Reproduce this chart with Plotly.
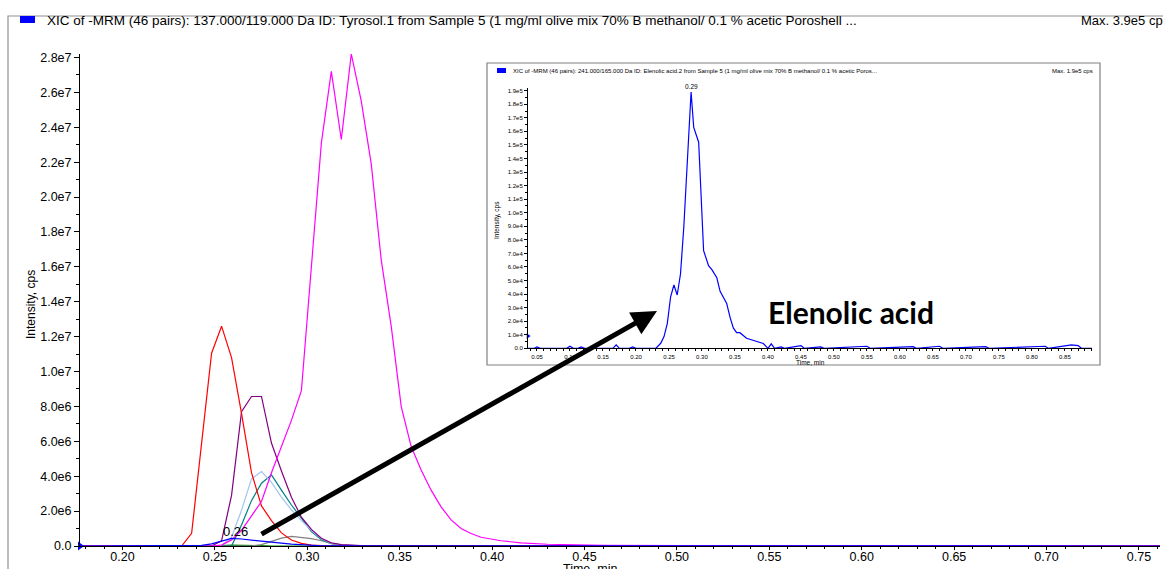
import plotly.graph_objects as go

# ---------------- main chromatogram data (time, min / intensity, cps) ----------------
RED_T = [0.177, 0.2320, 0.2374, 0.2428, 0.2482, 0.2536, 0.2590, 0.2644, 0.2698, 0.2752,
         0.2806, 0.2860, 0.2914, 0.2968, 0.3022, 0.3076, 0.3184, 0.7614]
RED_Y = [0, 0, 0.73e6, 5.9e6, 11.05e6, 12.6e6, 10.8e6, 7.6e6, 4.2e6, 2.3e6,
         1.45e6, 0.75e6, 0.34e6, 0.15e6, 0.05e6, 0.02e6, 0, 0]

PURPLE_T = [0.177, 0.2482, 0.2536, 0.2590, 0.2644, 0.2698, 0.2752, 0.2806, 0.2860, 0.2914,
            0.2968, 0.3022, 0.3076, 0.3130, 0.3184, 0.3292, 0.7614]
PURPLE_Y = [0, 0, 0.3e6, 2.9e6, 7.7e6, 8.57e6, 8.57e6, 5.9e6, 4.3e6, 2.8e6,
            1.65e6, 0.95e6, 0.44e6, 0.18e6, 0.08e6, 0.02e6, 0]

LIGHTBLUE_T = [0.177, 0.2482, 0.2536, 0.2590, 0.2644, 0.2698, 0.2752, 0.2806, 0.2860, 0.2914,
               0.2968, 0.3022, 0.3076, 0.3130, 0.3184, 0.3292, 0.7614]
LIGHTBLUE_Y = [0, 0, 0.05e6, 0.5e6, 2.05e6, 3.85e6, 4.27e6, 3.65e6, 2.8e6, 2.07e6,
               1.45e6, 0.9e6, 0.42e6, 0.15e6, 0.06e6, 0.01e6, 0]

TEAL_T = [0.177, 0.2590, 0.2644, 0.2698, 0.2752, 0.2806, 0.2860, 0.2914, 0.2968, 0.3022,
          0.3076, 0.3130, 0.3184, 0.3292, 0.7614]
TEAL_Y = [0, 0, 1.2e6, 2.6e6, 3.6e6, 4.07e6, 3.2e6, 2.35e6, 1.6e6, 0.82e6,
          0.36e6, 0.13e6, 0.05e6, 0.01e6, 0]

BLUE_T = [0.177, 0.2374, 0.2428, 0.2482, 0.2536, 0.2590, 0.2644, 0.2698, 0.2752, 0.2806,
          0.2860, 0.2914, 0.2968, 0.3022, 0.3076, 0.7614]
BLUE_Y = [0, 0, 0.04e6, 0.12e6, 0.3e6, 0.44e6, 0.4e6, 0.33e6, 0.27e6, 0.22e6,
          0.16e6, 0.11e6, 0.07e6, 0.03e6, 0.01e6, 0]

GRAY_T = [0.177, 0.2698, 0.2752, 0.2806, 0.2860, 0.2914, 0.2968, 0.3022, 0.3076, 0.3130,
          0.3184, 0.3238, 0.7614]
GRAY_Y = [0, 0, 0.08e6, 0.25e6, 0.45e6, 0.55e6, 0.5e6, 0.42e6, 0.3e6, 0.15e6,
          0.05e6, 0.01e6, 0]

GREEN_T = [0.177, 0.2482, 0.2536, 0.2590, 0.2644, 0.2698, 0.2752, 0.2806, 0.7614]
GREEN_Y = [0, 0, 0.03e6, 0.05e6, 0.05e6, 0.04e6, 0.02e6, 0, 0]

MAGENTA_T = [0.177, 0.2482, 0.2536, 0.2590, 0.2644, 0.2698, 0.2752, 0.2806, 0.2860, 0.2914,
             0.2968, 0.3022, 0.3076, 0.3130, 0.3184, 0.3238, 0.3292, 0.3346, 0.3400, 0.3454,
             0.3508, 0.3562, 0.3616, 0.3670, 0.3724, 0.3778, 0.3832, 0.3886, 0.3940, 0.4048,
             0.4156, 0.4300, 0.4600, 0.5500, 0.7614]
MAGENTA_Y = [0, 0, 0.05e6, 0.35e6, 0.9e6, 1.7e6, 2.55e6, 4.2e6, 5.7e6, 7.2e6,
             8.9e6, 16.0e6, 23.1e6, 27.2e6, 23.3e6, 28.2e6, 25.5e6, 21.9e6, 16.4e6, 12.6e6,
             8.0e6, 5.7e6, 4.36e6, 3.2e6, 2.24e6, 1.5e6, 1.0e6, 0.72e6, 0.5e6, 0.3e6,
             0.18e6, 0.1e6, 0.04e6, 0.01e6, 0]

MAIN_X_RANGE = [0.177, 0.7614]
MAIN_Y_RANGE = [0, 2.82e7]
MAIN_Y_TICKS = [0, 2e6, 4e6, 6e6, 8e6, 1e7, 1.2e7, 1.4e7, 1.6e7, 1.8e7, 2.0e7, 2.2e7, 2.4e7, 2.6e7, 2.8e7]
MAIN_Y_LABELS = ["0.0", "2.0e6", "4.0e6", "6.0e6", "8.0e6", "1.0e7", "1.2e7", "1.4e7", "1.6e7",
                 "1.8e7", "2.0e7", "2.2e7", "2.4e7", "2.6e7", "2.8e7"]
MAIN_PEAK_T = 0.2590
MAIN_PEAK_LABEL = "0.26"

# ---------------- inset (Elenolic acid) data ----------------
INSET_T = [0.0364, 0.046, 0.050, 0.055, 0.095, 0.100, 0.105, 0.112, 0.117, 0.122,
           0.165, 0.170, 0.175, 0.190, 0.195, 0.200, 0.2300, 0.2375, 0.2425, 0.2475,
           0.2525, 0.2575, 0.2625, 0.2675, 0.2725, 0.2775, 0.2835, 0.2875, 0.2950, 0.3025,
           0.3100, 0.3150, 0.3225, 0.3275, 0.3375, 0.3425, 0.3475, 0.3525, 0.3575, 0.3675,
           0.3775, 0.3850, 0.3930, 0.4000, 0.4050, 0.4100, 0.420, 0.425, 0.445, 0.450,
           0.455, 0.480, 0.485, 0.550, 0.555, 0.620, 0.625, 0.660, 0.665, 0.730,
           0.735, 0.800, 0.820, 0.825, 0.860, 0.870, 0.875, 0.891]
INSET_Y = [0, 0, 1000, 0, 0, 1500, 0, 0, 1000, 0,
           0, 2500, 0, 0, 1000, 0, 0, 3700, 8600, 18400,
           38000, 46700, 39300, 55000, 89700, 136000, 189000, 163000, 152000, 72000,
           61000, 58000, 52000, 42000, 33000, 23000, 15000, 11500, 11500, 7400,
           5700, 5000, 3500, 0, 3300, 0, 1000, 0, 1500, 2000,
           0, 1000, 0, 1500, 0, 1200, 0, 1500, 0, 1200,
           0, 1000, 1500, 0, 2500, 2000, 0, 0]
INSET_X_RANGE = [0.0364, 0.891]
INSET_Y_RANGE = [0, 1.92e5]
INSET_Y_TICKS = [i * 1e4 for i in range(20)]
INSET_Y_LABELS = ["0.0", "1.0e4", "2.0e4", "3.0e4", "4.0e4", "5.0e4", "6.0e4", "7.0e4", "8.0e4",
                  "9.0e4", "1.0e5", "1.1e5", "1.2e5", "1.3e5", "1.4e5", "1.5e5", "1.6e5",
                  "1.7e5", "1.8e5", "1.9e5"]
INSET_PEAK_T = 0.2835
INSET_PEAK_LABEL = "0.29"
INSET_MARK_Y = 9000

MAIN_TITLE = ("XIC of -MRM (46 pairs): 137.000/119.000 Da ID: Tyrosol.1 from Sample 5 "
              "(1 mg/ml olive mix 70% B methanol/ 0.1 % acetic Poroshell ...")
MAIN_MAX = "Max. 3.9e5 cps"
INSET_TITLE = ("XIC of -MRM (46 pairs): 241.000/165.000 Da ID: Elenolic acid.2 from Sample 5 "
               "(1 mg/ml olive mix 70% B methanol/ 0.1 % acetic Poros...")
INSET_MAX = "Max. 1.9e5 cps"

# ---------------- layout geometry (pixels) ----------------
W, H = 1163, 569
L, R, T, B = 80, 3, 54, 23
PW, PH = W - L - R, H - T - B


def px(xp):
    return (xp - L) / PW


def py(yp):
    return (H - B - yp) / PH


FONT = "Arial, Liberation Sans, sans-serif"

fig = go.Figure()

series = [
    (GREEN_T, GREEN_Y, "#008000"),
    (GRAY_T, GRAY_Y, "#808080"),
    (TEAL_T, TEAL_Y, "#008080"),
    (LIGHTBLUE_T, LIGHTBLUE_Y, "#a2c6f0"),
    (PURPLE_T, PURPLE_Y, "#800080"),
    (RED_T, RED_Y, "#ff0000"),
    (MAGENTA_T, MAGENTA_Y, "#ff00ff"),
    (BLUE_T, BLUE_Y, "#0000ff"),
]
for t, y, c in series:
    fig.add_trace(go.Scatter(x=t, y=y, mode="lines", line=dict(color=c, width=1.2),
                             xaxis="x", yaxis="y", showlegend=False, hoverinfo="skip"))

# start-of-axis marker (main)
fig.add_trace(go.Scatter(x=[MAIN_X_RANGE[0]], y=[0], mode="markers",
                         marker=dict(symbol="triangle-right", size=8, color="#0000ff"),
                         cliponaxis=False, xaxis="x", yaxis="y", showlegend=False))

# inset trace
fig.add_trace(go.Scatter(x=INSET_T, y=INSET_Y, mode="lines", line=dict(color="#0000ff", width=1.2),
                         xaxis="x2", yaxis="y2", showlegend=False, hoverinfo="skip"))
fig.add_trace(go.Scatter(x=[INSET_X_RANGE[0]], y=[INSET_MARK_Y], mode="markers",
                         marker=dict(symbol="triangle-right", size=5, color="#0000ff"),
                         cliponaxis=False, xaxis="x2", yaxis="y2", showlegend=False))

shapes = [
    # outer frame
    dict(type="rect", xref="paper", yref="paper", x0=px(8), x1=px(1175), y0=py(580), y1=py(16),
         line=dict(color="#909090", width=1.2), fillcolor="rgba(0,0,0,0)", layer="below"),
    # blue legend swatch (main)
    dict(type="rect", xref="paper", yref="paper", x0=px(20), x1=px(35), y0=py(23), y1=py(16),
         line=dict(width=0), fillcolor="#0000ff"),
    # inset box
    dict(type="rect", xref="paper", yref="paper", x0=px(487), x1=px(1100), y0=py(365), y1=py(63),
         line=dict(color="#808080", width=1.2), fillcolor="white", layer="below"),
    # inset legend swatch
    dict(type="rect", xref="paper", yref="paper", x0=px(497), x1=px(506), y0=py(73), y1=py(68),
         line=dict(width=0), fillcolor="#0000ff"),
]

annotations = [
    dict(text=MAIN_TITLE, xref="paper", yref="paper", x=px(45), y=py(21), xanchor="left",
         yanchor="middle", showarrow=False, font=dict(family=FONT, size=13.5, color="black")),
    dict(text=MAIN_MAX, xref="paper", yref="paper", x=px(1079), y=py(21), xanchor="left",
         yanchor="middle", showarrow=False, font=dict(family=FONT, size=13, color="black")),
    dict(text="Intensity, cps", xref="paper", yref="paper", x=px(31), y=py(305), textangle=-90,
         xanchor="center", yanchor="middle", showarrow=False,
         font=dict(family=FONT, size=12, color="black")),
    dict(text="Time, min", xref="paper", yref="paper", x=px(590), y=py(569), xanchor="center",
         yanchor="middle", showarrow=False, font=dict(family=FONT, size=12.5, color="black")),
    dict(text=MAIN_PEAK_LABEL, xref="x", yref="y", x=MAIN_PEAK_T, y=0.44e6, yanchor="bottom",
         xshift=4, yshift=-3, showarrow=False, font=dict(family=FONT, size=13, color="black")),
    # inset texts
    dict(text=INSET_TITLE, xref="paper", yref="paper", x=px(511), y=py(71), xanchor="left",
         yanchor="middle", showarrow=False, font=dict(family=FONT, size=6, color="black")),
    dict(text=INSET_MAX, xref="paper", yref="paper", x=px(1050), y=py(71), xanchor="left",
         yanchor="middle", showarrow=False, font=dict(family=FONT, size=6, color="black")),
    dict(text="Intensity, cps", xref="paper", yref="paper", x=px(497), y=py(220), textangle=-90,
         xanchor="center", yanchor="middle", showarrow=False,
         font=dict(family=FONT, size=6.5, color="black")),
    dict(text="Time, min", xref="paper", yref="paper", x=px(810), y=py(362), xanchor="center",
         yanchor="middle", showarrow=False, font=dict(family=FONT, size=6.5, color="black")),
    dict(text=INSET_PEAK_LABEL, xref="x2", yref="y2", x=INSET_PEAK_T, y=max(INSET_Y),
         yanchor="bottom", yshift=0, showarrow=False, font=dict(family=FONT, size=6.5, color="black")),
    # big label
    dict(text="<b>Elenolic acid</b>", xref="paper", yref="paper", x=px(851), y=py(312),
         xanchor="center", yanchor="middle", showarrow=False,
         font=dict(family="Lato, Open Sans, sans-serif", size=30, color="black")),
    # arrow
    dict(text="", xref="paper", yref="paper", x=px(657), y=py(311), ax=260 - 657, ay=535 - 311,
         axref="pixel", ayref="pixel", showarrow=True, arrowhead=2, arrowsize=1,
         arrowwidth=5, arrowcolor="black"),
]

axis_common = dict(showgrid=False, zeroline=False, showline=True, linecolor="black", linewidth=1,
                   ticks="outside", tickcolor="black", mirror=False, automargin=False)

fig.update_layout(
    width=W, height=H,
    margin=dict(l=L, r=R, t=T, b=B, pad=0, autoexpand=False),
    paper_bgcolor="white", plot_bgcolor="white",
    showlegend=False,
    xaxis=dict(**axis_common, domain=[0, 1], range=MAIN_X_RANGE, anchor="y",
               tick0=0, dtick=0.05, tickformat=".2f", ticklen=3, tickwidth=1,
               ticklabelstandoff=-4,
               tickfont=dict(family=FONT, size=12.5, color="black"),
               minor=dict(dtick=0.01, tick0=0, ticks="outside", ticklen=2, tickcolor="black")),
    yaxis=dict(**axis_common, domain=[0, 1], range=MAIN_Y_RANGE, anchor="x",
               tickvals=MAIN_Y_TICKS, ticktext=MAIN_Y_LABELS, ticklen=5, tickwidth=1,
               tickfont=dict(family=FONT, size=12.5, color="black"),
               minor=dict(dtick=1e6, tick0=0, ticks="outside", ticklen=3, tickcolor="black")),
    xaxis2=dict(**axis_common, domain=[px(528), px(1092)], range=INSET_X_RANGE, anchor="y2",
                tick0=0, dtick=0.05, tickformat=".2f", ticklen=2, tickwidth=1,
                tickfont=dict(family=FONT, size=6, color="black"),
                minor=dict(dtick=0.01, tick0=0, ticks="outside", ticklen=1.5, tickcolor="black")),
    yaxis2=dict(**axis_common, domain=[py(348.3), py(88)], range=INSET_Y_RANGE, anchor="x2",
                tickvals=INSET_Y_TICKS, ticktext=INSET_Y_LABELS, ticklen=3, tickwidth=1,
                tickfont=dict(family=FONT, size=6, color="black"),
                minor=dict(dtick=5e3, tick0=0, ticks="outside", ticklen=2, tickcolor="black")),
    shapes=shapes,
    annotations=annotations,
)

# remove the page's default body margin so the figure starts at the window's top-left corner
fig.write_html("out.html", config={"displayModeBar": False},
               post_script="document.body.style.margin='0';document.body.style.overflow='hidden';")
